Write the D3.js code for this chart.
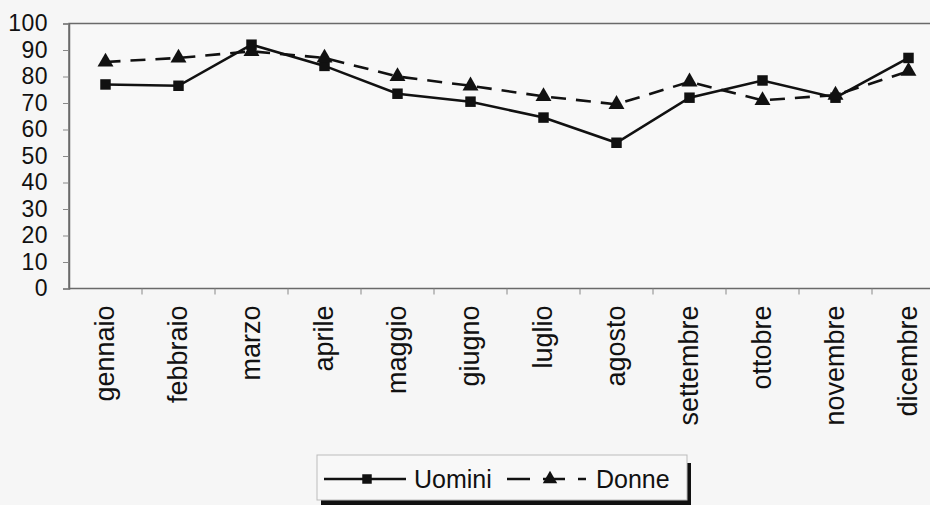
<!DOCTYPE html>
<html>
<head>
<meta charset="utf-8">
<script src="https://cdn.jsdelivr.net/npm/d3@7"></script>
<style>
  html, body { margin: 0; padding: 0; background: #f6f6f6; }
  svg { display: block; font-family: "Liberation Sans", Arial, sans-serif; }
</style>
</head>
<body>
<svg id="chart" width="930" height="505"></svg>
<script>
const months = ["gennaio","febbraio","marzo","aprile","maggio","giugno","luglio","agosto","settembre","ottobre","novembre","dicembre"];
const uomini = [77, 76.5, 92, 84, 73.5, 70.5, 64.5, 55, 72, 78.5, 72, 87];
const donne  = [85.5, 87, 89.5, 87, 80, 76.5, 72.5, 69.5, 78, 71, 73, 82];
const yTicks = [0,10,20,30,40,50,60,70,80,90,100];
const seriesNames = ["Uomini", "Donne"];

const svg = d3.select("#chart");
const pLeft = 69, pRight = 945, pTop = 23.5, pBottom = 288.5;

const x = d3.scaleBand().domain(months).range([pLeft, pRight]);
const y = d3.scaleLinear().domain([0, 100]).range([pBottom, pTop]);
const cx = d => x(d) + x.bandwidth() / 2;

// plot background + frame
svg.append("rect").attr("x", pLeft).attr("y", pTop)
  .attr("width", pRight - pLeft).attr("height", pBottom - pTop)
  .attr("fill", "#f8f8f8").attr("stroke", "#6a6a6a").attr("stroke-width", 1.5);

// y axis
const yAxis = d3.axisLeft(y).tickValues(yTicks).tickSize(6).tickPadding(15);
const gy = svg.append("g").attr("transform", `translate(${pLeft},0)`).call(yAxis);
gy.select(".domain").attr("stroke", "#6a6a6a").attr("stroke-width", 1.5);
gy.selectAll(".tick line").attr("stroke", "#888");
gy.selectAll(".tick text").attr("font-size", 23).attr("fill", "#111")
  .attr("letter-spacing", "0.5px")
  .attr("font-family", "Liberation Sans, Arial, sans-serif");

// x axis ticks at category boundaries
const gx = svg.append("g").attr("transform", `translate(0,${pBottom})`);
gx.selectAll("line.b").data(months.slice(1)).join("line")
  .attr("class", "b")
  .attr("x1", d => x(d)).attr("x2", d => x(d)).attr("y1", 0).attr("y2", 6)
  .attr("stroke", "#888").attr("stroke-width", 1);
gx.selectAll("text").data(months).join("text")
  .attr("transform", d => `translate(${cx(d) - 1},17) rotate(-90)`)
  .attr("text-anchor", "end").attr("dy", "0.35em")
  .attr("font-size", 27).attr("fill", "#111")
  .text(d => d);

// lines
const line = d3.line().x((d, i) => cx(months[i])).y(d => y(d));
svg.append("path").datum(uomini).attr("d", line)
  .attr("fill", "none").attr("stroke", "#111").attr("stroke-width", 2.6);
svg.append("path").datum(donne).attr("d", line)
  .attr("fill", "none").attr("stroke", "#111").attr("stroke-width", 2.6)
  .attr("stroke-dasharray", "15,10");

// markers
const sq = d3.symbol(d3.symbolSquare, 110);
const tri = d3.symbol(d3.symbolTriangle, 110);
svg.append("g").selectAll("path").data(uomini).join("path")
  .attr("transform", (d, i) => `translate(${cx(months[i])},${y(d)})`)
  .attr("d", sq).attr("fill", "#111");
svg.append("g").selectAll("path").data(donne).join("path")
  .attr("transform", (d, i) => `translate(${cx(months[i])},${y(d)})`)
  .attr("d", tri).attr("fill", "#111");

// legend
const lg = svg.append("g");
const lx = 317, ly = 455, lw = 370, lh = 45;
lg.append("rect").attr("x", lx + 4).attr("y", ly + 8).attr("width", lw).attr("height", lh)
  .attr("fill", "#111");
lg.append("rect").attr("x", lx).attr("y", ly).attr("width", lw).attr("height", lh)
  .attr("fill", "#f8f8f8").attr("stroke", "#bbb").attr("stroke-width", 1);
const midY = ly + 24;
lg.append("line").attr("x1", lx + 7).attr("x2", lx + 89).attr("y1", midY).attr("y2", midY)
  .attr("stroke", "#111").attr("stroke-width", 2.6);
lg.append("path").attr("transform", `translate(${lx + 50},${midY})`).attr("d", d3.symbol(d3.symbolSquare, 90)).attr("fill", "#111");
lg.append("text").attr("x", lx + 97).attr("y", midY).attr("dy", "0.35em")
  .attr("font-size", 25).attr("fill", "#111").text(seriesNames[0]);
lg.append("line").attr("x1", lx + 190).attr("x2", lx + 269).attr("y1", midY).attr("y2", midY)
  .attr("stroke", "#111").attr("stroke-width", 2.6).attr("stroke-dasharray", "23,13,22,13,8,100");
lg.append("path").attr("transform", `translate(${lx + 233},${midY})`).attr("d", d3.symbol(d3.symbolTriangle, 90)).attr("fill", "#111");
lg.append("text").attr("x", lx + 279).attr("y", midY).attr("dy", "0.35em")
  .attr("font-size", 25).attr("fill", "#111").text(seriesNames[1]);
</script>
</body>
</html>
